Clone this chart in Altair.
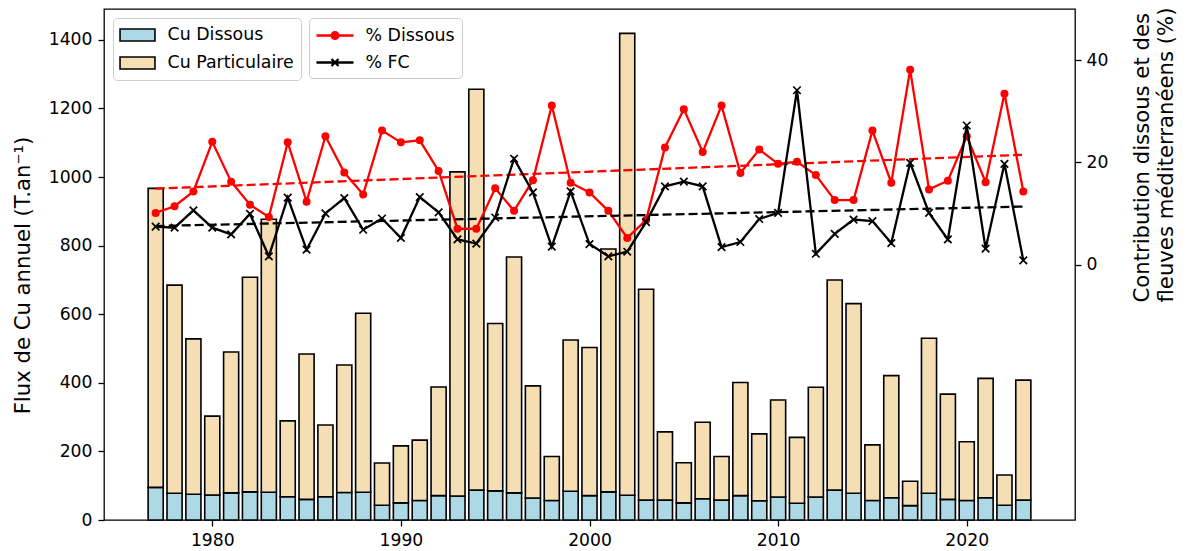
import altair as alt
import pandas as pd

# ---------------- data ----------------
years = list(range(1977, 2024))

cu_dissous = [95, 78, 75, 73, 79, 82, 81, 68, 60, 68,
              80, 81, 43, 50, 57, 71, 70, 87, 85, 79,
              64, 57, 84, 71, 82, 72, 58, 58, 50, 62,
              58, 71, 56, 67, 49, 67, 87, 78, 57, 65,
              42, 78, 60, 57, 65, 43, 58]

cu_particulaire = [872, 607, 453, 230, 411, 626, 796, 221, 424, 209,
                   372, 522, 123, 166, 176, 317, 945, 1169, 488, 688,
                   327, 128, 441, 432, 708, 1347, 615, 199, 117, 223,
                   127, 330, 195, 283, 192, 320, 613, 553, 162, 356,
                   71, 452, 307, 171, 348, 88, 350]

pct_dissous = [10.1, 11.4, 14.3, 24.0, 16.2, 11.7, 9.3, 23.9, 12.3, 25.1,
               18.0, 13.7, 26.2, 23.9, 24.3, 18.3, 7.0, 7.0, 14.9, 10.5,
               16.5, 31.1, 16.0, 14.1, 10.5, 5.2, 8.7, 22.9, 30.4, 22.0,
               31.1, 17.9, 22.5, 19.7, 20.1, 17.5, 12.6, 12.6, 26.2, 16.0,
               38.1, 14.7, 16.4, 25.1, 16.1, 33.4, 14.3]

pct_fc = [7.4, 7.2, 10.6, 7.2, 5.9, 9.9, 1.6, 13.1, 2.9, 10.0,
          13.0, 6.8, 9.0, 5.2, 13.2, 10.2, 4.9, 4.1, 9.2, 20.7,
          14.1, 3.5, 14.3, 4.0, 1.6, 2.5, 8.3, 15.3, 16.2, 15.3,
          3.4, 4.4, 8.9, 10.1, 34.1, 2.1, 6.0, 8.8, 8.5, 4.2,
          19.9, 10.1, 4.9, 27.2, 3.1, 19.7, 0.8]

bar_types = ["Cu Dissous", "Cu Particulaire"]
bar_colors = ["#add8e6", "#f5deb3"]
line_series = ["% Dissous", "% FC"]
line_colors = ["red", "black"]
x_ticks = [1980, 1990, 2000, 2010, 2020]
left_ticks = [0, 200, 400, 600, 800, 1000, 1200, 1400]
right_ticks = [0, 20, 40]

rows = []
for y, d, p in zip(years, cu_dissous, cu_particulaire):
    rows.append({"annee": y, "type": bar_types[0], "bas": 0, "haut": d})
    rows.append({"annee": y, "type": bar_types[1], "bas": d, "haut": d + p})
bars_df = pd.DataFrame(rows)

line_df = pd.DataFrame({
    "annee": years + years,
    "serie": [line_series[0]] * len(years) + [line_series[1]] * len(years),
    "valeur": pct_dissous + pct_fc,
})

FONT = "DejaVu Sans"
TICK_FS = 17.2
LEG_FS = 17.4
TITLE_FS = 21.2
LW = 2.3

xs = alt.Scale(domain=[1974.26, 2025.74], nice=False, zero=False)
ys_left = alt.Scale(domain=[0, 1490], nice=False, zero=False)
ys_right = alt.Scale(domain=[-50, 50], nice=False, zero=False)

common_axis = dict(labelFont=FONT, labelFontSize=TICK_FS, labelColor="black",
                   titleFont=FONT, titleFontWeight="normal", titleColor="black",
                   tickColor="black", tickWidth=1.3, tickSize=6, domain=False, grid=False)

x_axis = alt.Axis(values=x_ticks, format="d", title=None, labelPadding=5, **common_axis)
left_axis = alt.Axis(values=left_ticks, format="d", orient="left",
                     title="Flux de Cu annuel (T.an⁻¹)",
                     titleFontSize=TITLE_FS, titleAngle=270, titleAlign="center",
                     titleBaseline="alphabetic", titleX=-75, titleY=266,
                     labelPadding=6, **common_axis)
right_axis = alt.Axis(values=right_ticks, format="d", orient="right",
                      title=["Contribution dissous et des", "fleuves méditerranéens (%)"],
                      titleFontSize=TITLE_FS, titleAngle=270, titleAlign="left",
                      titleBaseline="alphabetic", titleX=73, titleY=293, titleLineHeight=24,
                      labelPadding=5, **common_axis)

legend_box = dict(title=None, orient="none", direction="vertical", columns=1,
                  labelFont=FONT, labelFontSize=LEG_FS, labelColor="black", labelAlign="left",
                  strokeColor="#cccccc", fillColor="rgba(255,255,255,0.8)",
                  cornerRadius=4, padding=7, rowPadding=8, symbolSize=324)

rect_path = "M-1.94,-0.67H1.94V0.67H-1.94Z"
red_path = "M-2.06,0H2.06M-0.37,0A0.37,0.37,0,1,1,0.37,0A0.37,0.37,0,1,1,-0.37,0Z"
black_path = "M-2.06,0H2.06M-0.39,-0.39L0.39,0.39M-0.39,0.39L0.39,-0.39"
x_marker = "M-1,-1L1,1M-1,1L1,-1"

# ---------------- bars (left axis) ----------------
bars = alt.Chart(bars_df).transform_calculate(
    x0="datum.annee - 0.4", x1="datum.annee + 0.4"
).mark_bar(stroke="black", strokeWidth=1.6).encode(
    x=alt.X("x0:Q", scale=xs, axis=x_axis),
    x2="x1:Q",
    y=alt.Y("bas:Q", scale=ys_left, axis=left_axis),
    y2="haut:Q",
    fill=alt.Fill("type:N", scale=alt.Scale(domain=bar_types, range=bar_colors),
                  legend=alt.Legend(legendX=9, legendY=9, symbolType=rect_path,
                                    symbolStrokeColor="black", symbolStrokeWidth=1.6,
                                    symbolOffset=7.5, labelOffset=20, **legend_box)),
)

# ---------------- lines (right axis) ----------------
base = alt.Chart(line_df)
xq = alt.X("annee:Q", scale=xs, axis=x_axis)
yq = alt.Y("valeur:Q", scale=ys_right, axis=right_axis)

layers = []
for i, (s, c) in enumerate(zip(line_series, line_colors)):
    sub = base.transform_filter(alt.datum.serie == s)
    layers.append(sub.transform_regression("annee", "valeur").mark_line(
        color=c, strokeWidth=LW, strokeDash=[9, 4]).encode(x=xq, y=yq))
    layers.append(sub.mark_line(color=c, strokeWidth=LW).encode(x=xq, y=yq))
    if i == 0:
        layers.append(sub.mark_point(shape="circle", filled=True, color=c, size=64,
                                     opacity=1).encode(x=xq, y=yq))
    else:
        layers.append(sub.mark_point(shape=x_marker, filled=False, color=c, size=56,
                                     strokeWidth=1.7, opacity=1).encode(x=xq, y=yq))

line_legend = dict(legendX=205, legendY=9, symbolFillColor="red", symbolStrokeWidth=LW,
                   symbolOffset=8.5, labelOffset=20, **legend_box)
legend_layer = base.transform_filter("false").mark_point(
    filled=False, fill="red", strokeWidth=LW, opacity=1
).encode(
    x=xq, y=yq,
    color=alt.Color("serie:N", scale=alt.Scale(domain=line_series, range=line_colors),
                    legend=alt.Legend(**line_legend)),
    shape=alt.Shape("serie:N", scale=alt.Scale(domain=line_series, range=[red_path, black_path]),
                    legend=alt.Legend(**line_legend)),
)
layers.append(legend_layer)

lines = alt.layer(*layers)

chart = alt.layer(bars, lines).resolve_scale(y="independent").properties(
    width=971, height=511,
    autosize=alt.AutoSizeParams(type="none"),
    padding={"left": 96, "top": 1, "right": 104, "bottom": 30},
).configure_view(stroke="black", strokeWidth=1.3)

chart.save("out.html", embed_options={"renderer": "svg", "actions": False})
